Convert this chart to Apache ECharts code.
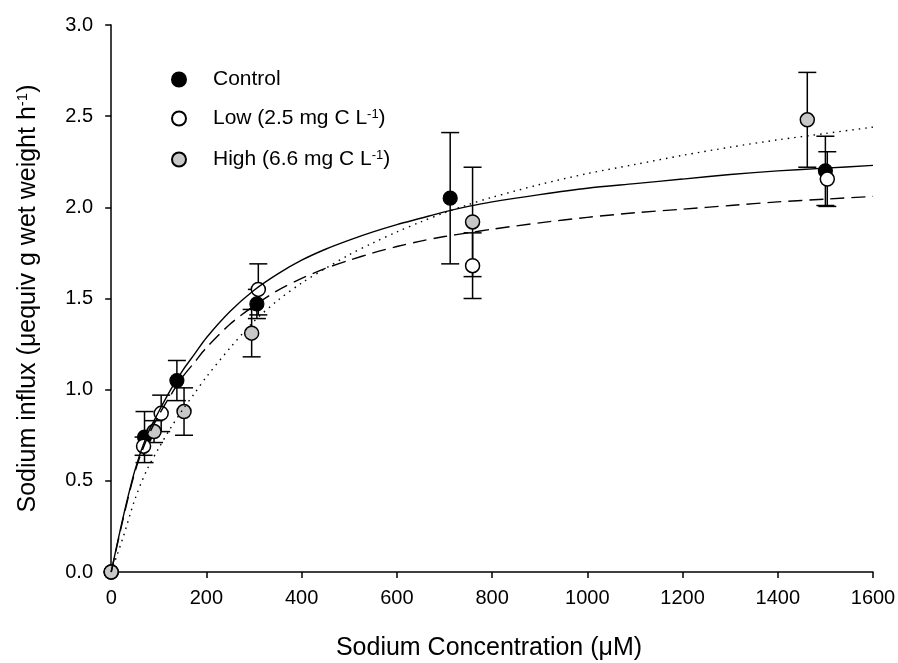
<!DOCTYPE html>
<html style="height: 100%">
<head>
	<meta charset="utf-8">
</head>
<body style="height: 100%; margin: 0; background: #fff">
<div id="container" style="width: 898px; height: 663px"></div>
<script type="text/javascript" src="https://cdn.jsdelivr.net/npm/echarts@6/dist/echarts.min.js"></script>
<script type="text/javascript">
    // measured points: concentration (µM), influx, +/- error
    var controlX = [0, 70, 138, 306, 712, 1500];
    var controlY = [0, 0.74, 1.05, 1.47, 2.05, 2.20];
    var controlErr = [0, 0.14, 0.11, 0.08, 0.36, 0.19];

    var lowX = [0, 68, 105, 309, 759, 1504];
    var lowY = [0, 0.69, 0.87, 1.55, 1.68, 2.155];
    var lowErr = [0, 0.05, 0.10, 0.14, 0.18, 0.15];

    var highX = [0, 90, 153, 295, 759, 1462];
    var highY = [0, 0.77, 0.88, 1.31, 1.92, 2.48];
    var highErr = [0, 0.06, 0.13, 0.13, 0.30, 0.26];

    // fitted curves
    var curveX = [0, 25, 50, 75, 100, 125, 150, 175, 200, 250, 300, 350, 400, 450, 500, 550, 600, 650, 700, 750, 800,
        900, 1000, 1100, 1200, 1300, 1400, 1500, 1600];
    var solidY = [0, 0.30, 0.56, 0.75, 0.88, 1.00, 1.105, 1.195, 1.285, 1.43, 1.545, 1.635, 1.71, 1.77, 1.82, 1.865, 1.905, 1.94, 1.975, 2.005, 2.03,
        2.07, 2.105, 2.13, 2.155, 2.18, 2.20, 2.215, 2.23];
    var dashedY = [0, 0.29, 0.55, 0.73, 0.86, 0.97, 1.07, 1.15, 1.23, 1.36, 1.46, 1.545, 1.61, 1.665, 1.71, 1.75, 1.785, 1.815, 1.84, 1.86, 1.88,
        1.915, 1.945, 1.97, 1.99, 2.01, 2.03, 2.045, 2.06];
    var dottedY = [0, 0.19, 0.40, 0.56, 0.68, 0.79, 0.89, 0.98, 1.07, 1.23, 1.375, 1.49, 1.585, 1.665, 1.74, 1.805, 1.865, 1.92, 1.97, 2.015, 2.055,
        2.125, 2.185, 2.235, 2.285, 2.33, 2.37, 2.405, 2.44];

    var xTicks = [0, 200, 400, 600, 800, 1000, 1200, 1400, 1600];

    var FONT = 'Liberation Sans';

    function zip(xs, ys) {
        return xs.map(function (x, i) { return [x, ys[i]]; });
    }
    function errData(xs, ys, es) {
        var out = [];
        xs.forEach(function (x, i) {
            if (es[i] > 0) out.push([x, ys[i] - es[i], ys[i] + es[i]]);
        });
        return out;
    }

    function renderErr(params, api) {
        var x = api.value(0);
        var top = api.coord([x, api.value(2)]);
        var bot = api.coord([x, api.value(1)]);
        var hw = 9;
        var st = { stroke: '#000', lineWidth: 1.5 };
        return {
            type: 'group',
            children: [
                { type: 'line', shape: { x1: top[0], y1: top[1], x2: bot[0], y2: bot[1] }, style: st },
                { type: 'line', shape: { x1: top[0] - hw, y1: top[1], x2: top[0] + hw, y2: top[1] }, style: st },
                { type: 'line', shape: { x1: bot[0] - hw, y1: bot[1], x2: bot[0] + hw, y2: bot[1] }, style: st }
            ]
        };
    }

    var legendNames = {
        'Control': 'Control',
        'Low': 'Low (2.5 mg C L{sup|-1})',
        'High': 'High (6.6 mg C L{sup|-1})'
    };

    var dom = document.getElementById("container");
    var myChart = echarts.init(dom);

    var lineBase = { type: 'line', z: 4, smooth: 0.3, symbol: 'none' };

    var option = {
        backgroundColor: '#fff',
        animation: false,
        grid: {
            left: 105,
            right: 25,
            top: 25,
            bottom: 91,
            outerBoundsMode: 'none'
        },
        legend: {
            orient: 'vertical',
            left: 166,
            top: 64,
            itemWidth: 14,
            itemHeight: 14,
            itemGap: 18,
            data: ['Control', 'Low', 'High'],
            formatter: function (name) { return legendNames[name]; },
            textStyle: {
                fontFamily: FONT,
                fontSize: 21,
                color: '#000',
                padding: [0, 0, 0, 22],
                rich: {
                    sup: { fontFamily: FONT, fontSize: 13, verticalAlign: 'top', lineHeight: 14, padding: [0, 0, 10, 0] }
                }
            }
        },
        xAxis: {
            type: 'value',
            min: -13,
            max: 1600,
            name: 'Sodium Concentration (μM)',
            nameLocation: 'middle',
            nameGap: 64,
            nameTextStyle: { fontFamily: FONT, fontSize: 25, color: '#000' },
            axisLine: { lineStyle: { color: '#000', width: 1.5 } },
            axisTick: { customValues: xTicks, length: 6, lineStyle: { color: '#000', width: 1.5 } },
            axisLabel: {
                customValues: xTicks, margin: 16, fontFamily: FONT, fontSize: 20, color: '#000',
                formatter: function (v) { return String(v); }
            },
            splitLine: { show: false }
        },
        yAxis: {
            type: 'value',
            min: 0,
            max: 3,
            interval: 0.5,
            name: 'Sodium influx (μequiv g wet weight h{sup|-1})',
            nameLocation: 'middle',
            nameGap: 63,
            nameTextStyle: {
                fontFamily: FONT, fontSize: 25, color: '#000',
                rich: { sup: { fontFamily: FONT, fontSize: 15, verticalAlign: 'top', padding: [0, 0, 12, 0] } }
            },
            axisLine: { lineStyle: { color: '#000', width: 1.5 } },
            axisTick: { length: 6, lineStyle: { color: '#000', width: 1.5 } },
            axisLabel: {
                margin: 12, fontFamily: FONT, fontSize: 20, color: '#000',
                formatter: function (v) { return v.toFixed(1); }
            },
            splitLine: { show: false }
        },
        series: [
            {
                type: 'custom', name: 'errControl', renderItem: renderErr, z: 1,
                encode: { x: 0, y: [1, 2] }, data: errData(controlX, controlY, controlErr)
            },
            {
                type: 'custom', name: 'errLow', renderItem: renderErr, z: 1,
                encode: { x: 0, y: [1, 2] }, data: errData(lowX, lowY, lowErr)
            },
            {
                type: 'custom', name: 'errHigh', renderItem: renderErr, z: 1,
                encode: { x: 0, y: [1, 2] }, data: errData(highX, highY, highErr)
            },
            {
                name: 'Control', type: 'scatter', z: 3, symbolSize: 14,
                itemStyle: { color: '#000', borderColor: '#000', borderWidth: 1.2, opacity: 1 },
                data: zip(controlX, controlY)
            },
            {
                name: 'Low', type: 'scatter', z: 3, symbolSize: 14,
                itemStyle: { color: '#fff', borderColor: '#000', borderWidth: 1.5, opacity: 1 },
                data: zip(lowX, lowY)
            },
            {
                name: 'High', type: 'scatter', z: 3, symbolSize: 14,
                itemStyle: { color: '#c8c8c8', borderColor: '#000', borderWidth: 1.5, opacity: 1 },
                data: zip(highX, highY)
            },
            Object.assign({}, lineBase, {
                name: 'fitSolid',
                lineStyle: { color: '#000', width: 1.4, type: 'solid' },
                data: zip(curveX, solidY)
            }),
            Object.assign({}, lineBase, {
                name: 'fitDashed',
                lineStyle: { color: '#000', width: 1.4, type: [14, 7] },
                data: zip(curveX, dashedY)
            }),
            Object.assign({}, lineBase, {
                name: 'fitDotted',
                lineStyle: { color: '#000', width: 1.4, type: [1.5, 5] },
                data: zip(curveX, dottedY)
            })
        ]
    };

    myChart.setOption(option, true);
</script>
</body>
</html>
